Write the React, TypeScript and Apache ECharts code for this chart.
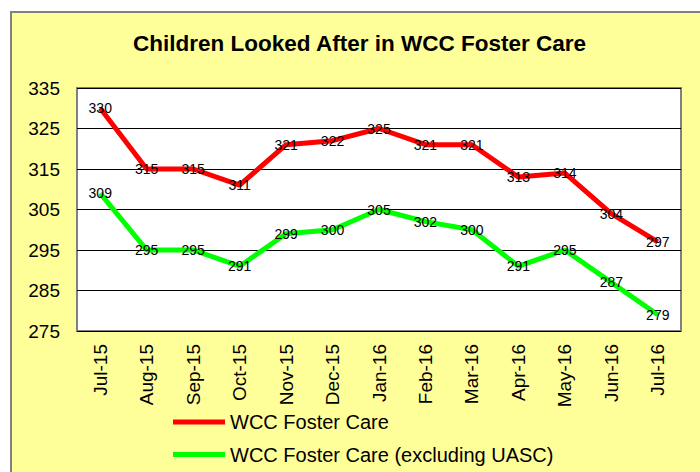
import React, { useEffect, useRef } from "react";
import * as echarts from "echarts";

const categories = ["Jul-15", "Aug-15", "Sep-15", "Oct-15", "Nov-15", "Dec-15", "Jan-16", "Feb-16", "Mar-16", "Apr-16", "May-16", "Jun-16", "Jul-16"];
const fosterCare = [330, 315, 315, 311, 321, 322, 325, 321, 321, 313, 314, 304, 297];
const fosterCareExUASC = [309, 295, 295, 291, 299, 300, 305, 302, 300, 291, 295, 287, 279];
const yMin = 275;
const yMax = 335;
const seriesNames = ["WCC Foster Care", "WCC Foster Care (excluding UASC)"];
const title = "Children Looked After in WCC Foster Care";

const FONT = "'Liberation Sans', Arial, sans-serif";

export default function App() {
  const ref = useRef<HTMLDivElement>(null);
  useEffect(() => {
    if (!ref.current) return;
    const chart = echarts.init(ref.current, null, { renderer: "svg" });
    const labelStyle = {
      show: true,
      position: "inside" as const,
      color: "#000",
      fontSize: 14,
      fontFamily: FONT,
    };
    chart.setOption({
      animation: false,
      backgroundColor: "#fff",
      graphic: [
        {
          type: "rect",
          left: 10,
          top: 11,
          shape: { width: 700, height: 470 },
          style: { fill: "#FFFF99", stroke: "#808080", lineWidth: 2 },
          z: -10,
        },
      ],
      title: {
        text: title,
        left: 128,
        top: 27,
        textStyle: { fontFamily: FONT, fontSize: 22.5, fontWeight: "bold", color: "#000" },
      },
      grid: {
        left: 77,
        top: 88,
        right: 19,
        bottom: 141,
        show: true,
        backgroundColor: "#fff",
        borderColor: "#808080",
        borderWidth: 2,
      },
      legend: {
        orient: "vertical",
        left: 168,
        top: 407,
        height: 80,
        itemWidth: 52,
        itemHeight: 5,
        itemGap: 12.5,
        icon: "rect",
        data: seriesNames,
        textStyle: { fontFamily: FONT, fontSize: 20, color: "#000" },
      },
      xAxis: {
        type: "category",
        data: categories,
        boundaryGap: true,
        axisLine: { show: false },
        axisTick: { show: false },
        axisLabel: {
          rotate: 90,
          interval: 0,
          margin: 13,
          color: "#000",
          fontFamily: FONT,
          fontSize: 19,
        },
      },
      yAxis: {
        type: "value",
        min: yMin,
        max: yMax,
        interval: 5,
        axisLine: { show: false },
        axisTick: { show: false },
        axisLabel: {
          margin: 17,
          color: "#000",
          fontFamily: FONT,
          fontSize: 19,
          formatter: (v: number) => ((v - yMin) % 10 === 0 ? String(v) : ""),
        },
        splitLine: {
          show: true,
          lineStyle: { color: ["#000", "rgba(0,0,0,0)"], width: 1 },
        },
      },
      series: [
        {
          name: seriesNames[0],
          type: "line",
          data: fosterCare,
          symbol: "circle",
          symbolSize: 0.1,
          showSymbol: true,
          lineStyle: { color: "#FF0000", width: 5 },
          itemStyle: { color: "#FF0000" },
          label: labelStyle,
        },
        {
          name: seriesNames[1],
          type: "line",
          data: fosterCareExUASC,
          symbol: "circle",
          symbolSize: 0.1,
          showSymbol: true,
          lineStyle: { color: "#00FF00", width: 5 },
          itemStyle: { color: "#00FF00" },
          label: labelStyle,
        },
      ],
    });
    return () => chart.dispose();
  }, []);
  return (
    <div
      ref={ref}
      style={{ position: "fixed", left: 0, top: 0, width: 700, height: 472 }}
    />
  );
}
